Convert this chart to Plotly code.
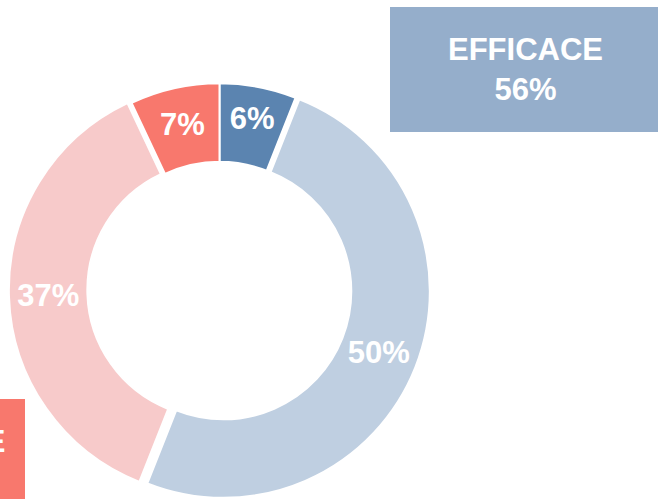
import plotly.graph_objects as go

# slices, clockwise from 12 o'clock
labels = ["Efficace A", "Efficace B", "Non efficace A", "Non efficace B"]
values = [6, 50, 37, 7]
groups = ["EFFICACE", "EFFICACE", "NON EFFICACE", "NON EFFICACE"]

slice_colors = ["#5b84b0", "#bfcfe1", "#f7caca", "#f8786d"]
slice_pull = [0, 0.02, 0.02, 0]

# group totals for the two boxes
group_names = ["EFFICACE", "NON EFFICACE"]
group_totals = [sum(v for v, g in zip(values, groups) if g == name) for name in group_names]
box_colors = ["#95aecb", "#f8786d"]

W, H = 658, 510   # a little taller than the window; bottom is cropped like the reference
font_family = "Liberation Sans, Arial, sans-serif"


def px(x):
    return x / W


def py(y):
    return 1 - y / H


# donut centre / outer radius in window pixels
cx, cy, R = 219.5, 289.8, 206.5
half = R * (1 + max(slice_pull))

fig = go.Figure(go.Pie(
    labels=labels,
    values=values,
    sort=False,
    direction="clockwise",
    rotation=0,
    hole=0.62,
    pull=slice_pull,
    marker=dict(colors=slice_colors, line=dict(color="white", width=2)),
    texttemplate="%{value}%",
    textposition="inside",
    insidetextorientation="horizontal",
    insidetextfont=dict(family=font_family, size=31, color="white", weight="bold"),
    hoverinfo="label+value",
    showlegend=False,
    domain=dict(x=[px(cx - half), px(cx + half)], y=[py(cy + half), py(cy - half)]),
))

# summary boxes (pixel geometry converted to paper coords)
boxes = [
    (390, 661, 7, 132),     # top right
    (-246, 25, 399, 524),   # bottom left, mostly off canvas
]
for (x0, x1, y0, y1), name, total, col in zip(boxes, group_names, group_totals, box_colors):
    fig.add_shape(
        type="rect", xref="paper", yref="paper",
        x0=px(x0), x1=px(x1), y0=py(y1), y1=py(y0),
        fillcolor=col, line=dict(width=0), layer="below",
    )
    fig.add_annotation(
        xref="paper", yref="paper",
        x=px((x0 + x1) / 2), y=py(y0 + 62.5),
        xanchor="center", yanchor="middle",
        text=f"{name}<br>{total}%",
        showarrow=False, align="center",
        font=dict(family=font_family, size=31, color="white", weight="bold"),
    )

fig.update_layout(
    width=W, height=H,
    margin=dict(l=0, r=0, t=0, b=0),
    paper_bgcolor="white",
    plot_bgcolor="white",
)

# no page margin or scrollbars, so the figure sits at the window corner
fig.write_html(
    "out.html",
    config={"displayModeBar": False},
    post_script="document.body.style.margin='0';document.body.style.overflow='hidden';",
)
